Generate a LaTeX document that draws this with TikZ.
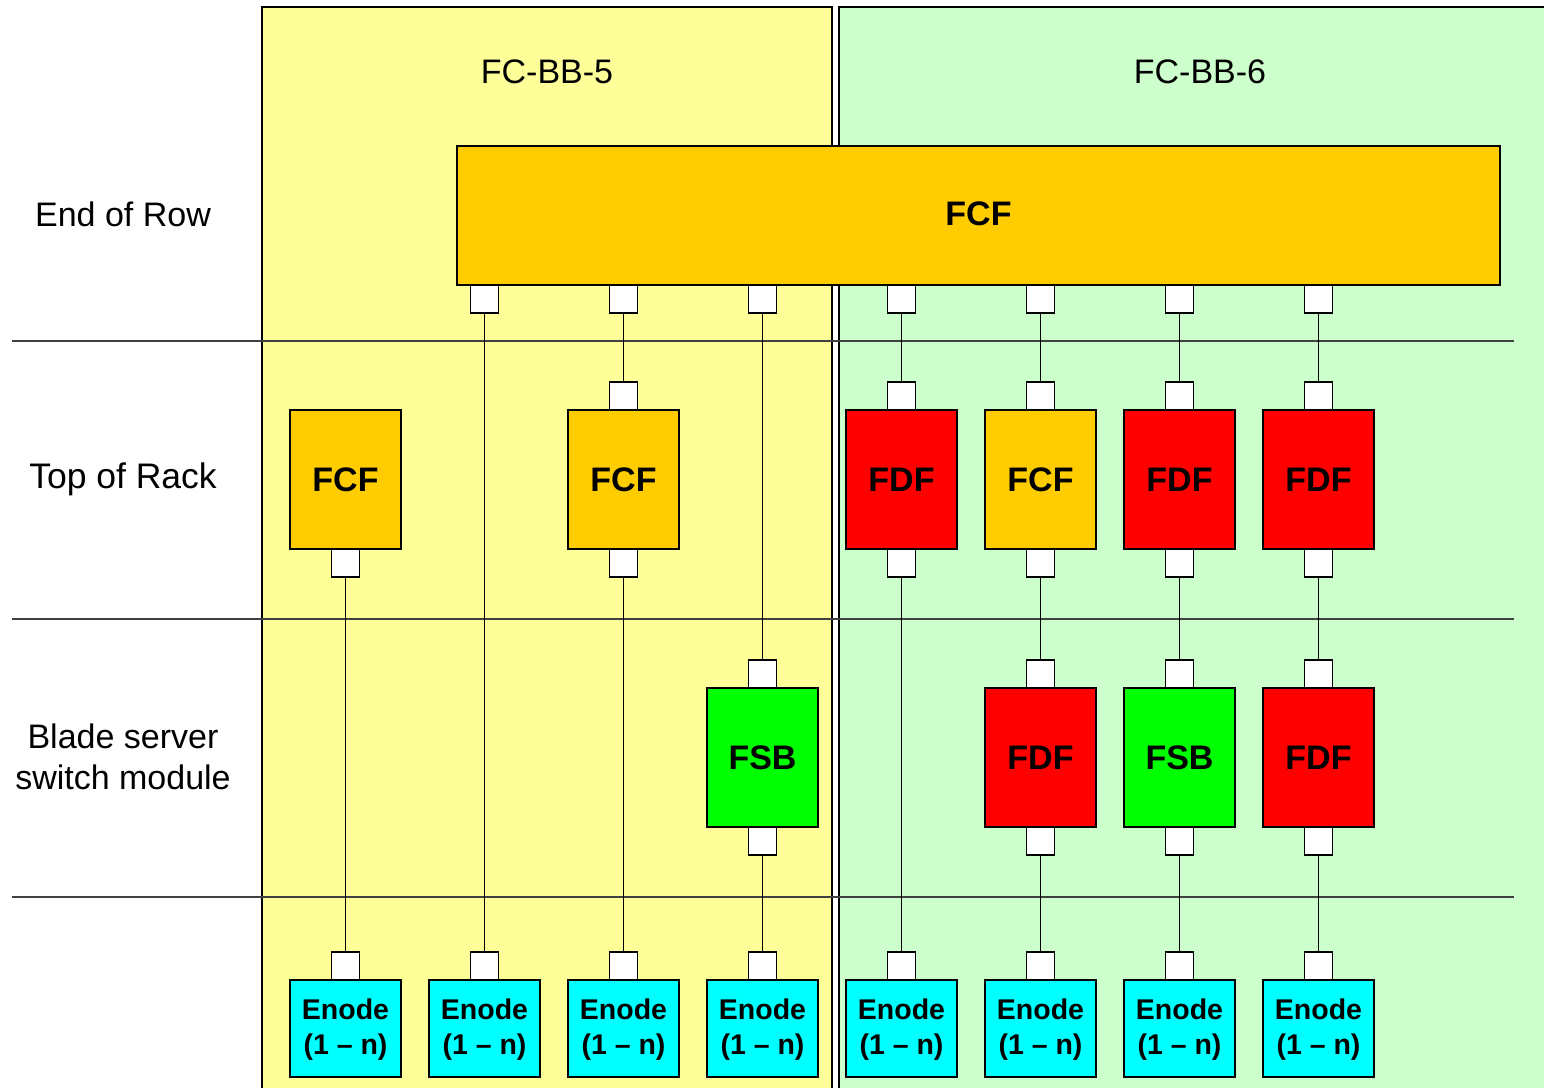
\documentclass[tikz,border=0pt]{standalone}
\usepackage{fontspec}
\setmainfont{Liberation Sans}
\definecolor{panelY}{HTML}{FFFF99}
\definecolor{panelG}{HTML}{CCFFCC}
\definecolor{fcfC}{HTML}{FFCC00}
\definecolor{fdfC}{HTML}{FF0000}
\definecolor{fsbC}{HTML}{00FF00}
\definecolor{enC}{HTML}{00FFFF}
\definecolor{rowline}{HTML}{404040}
\tikzset{
  panel/.style={draw=black, line width=2pt},
  rowsep/.style={draw=rowline, line width=1.4pt},
  conn/.style={draw=black, line width=1.3pt},
  port/.style={draw=black, line width=1.3pt, fill=white, minimum width=28pt, minimum height=28pt, inner sep=0pt},
  unit/.style={draw=black, line width=1.3pt, minimum width=111pt, minimum height=139pt, inner sep=0pt,
     font=\fontsize{34}{41}\selectfont\bfseries},
  fcfbox/.style={unit, fill=fcfC},
  fdfbox/.style={unit, fill=fdfC},
  fsbbox/.style={unit, fill=fsbC},
  enbox/.style={draw=black, line width=1.3pt, fill=enC, minimum width=111pt, minimum height=97pt, inner sep=0pt},
  entext/.style={align=center, font=\fontsize{28.5}{35}\selectfont\bfseries},
  rowlabel/.style={align=center, font=\fontsize{34}{41}\selectfont},
}
\begin{document}
\begin{tikzpicture}[x=1pt,y=-1pt]
\useasboundingbox (0,0) rectangle (1544,1087);
% panels
\path[panel, fill=panelY] (262,7) rectangle (832,1100);
\path[panel, fill=panelG] (839,7) rectangle (1560,1100);
\node[rowlabel] (bb5) at (547,72) {FC-BB-5};
\node[rowlabel] (bb6) at (1200,72) {FC-BB-6};
% row separators
\coordinate (r1a) at (12,341); \coordinate (r1b) at (1514,341);
\coordinate (r2a) at (12,619); \coordinate (r2b) at (1514,619);
\coordinate (r3a) at (12,897); \coordinate (r3b) at (1514,897);
\draw[rowsep] (r1a) -- (r1b);
\draw[rowsep] (r2a) -- (r2b);
\draw[rowsep] (r3a) -- (r3b);
% row labels
\node[rowlabel] (lEoR) at (123,214) {End of Row};
\node[rowlabel, font=\fontsize{35.5}{41}\selectfont] (lToR) at (123,479) {Top of Rack};
\node[rowlabel] (lBlade) at (123,757) {Blade server\\switch module};
% End of row FCF
\node[fcfbox, minimum width=1043pt] (eor) at (978.5,215.5) {};
\node[font=\fontsize{34}{41}\selectfont\bfseries] (eorlbl) at (978.5,214) {FCF};
% top ports (columns 2..8)
\foreach \c in {2,...,8}{
  \node[port] (tp\c) at ({345.5+139*(\c-1)},299) {};
}
% Top of rack units
\node[fcfbox] (tor1) at (345.5,479.5) {FCF};
\node[fcfbox] (tor3) at (623.5,479.5) {FCF};
\node[fdfbox] (tor5) at (901.5,479.5) {FDF};
\node[fcfbox] (tor6) at (1040.5,479.5) {FCF};
\node[fdfbox] (tor7) at (1179.5,479.5) {FDF};
\node[fdfbox] (tor8) at (1318.5,479.5) {FDF};
\foreach \c in {3,5,6,7,8}{
  \node[port] (tin\c) at ({345.5+139*(\c-1)},396) {};
}
\foreach \c in {1,3,5,6,7,8}{
  \node[port] (tout\c) at ({345.5+139*(\c-1)},563) {};
}
% Blade units
\node[fsbbox] (bl4) at (762.5,757.5) {FSB};
\node[fdfbox] (bl6) at (1040.5,757.5) {FDF};
\node[fsbbox] (bl7) at (1179.5,757.5) {FSB};
\node[fdfbox] (bl8) at (1318.5,757.5) {FDF};
\foreach \c in {4,6,7,8}{
  \node[port] (bin\c) at ({345.5+139*(\c-1)},674) {};
  \node[port] (bout\c) at ({345.5+139*(\c-1)},841) {};
}
% Enodes
\foreach \c in {1,...,8}{
  \node[enbox] (en\c) at ({345.5+139*(\c-1)},1028.5) {};
  \node[entext] (ent\c) at ({345.5+139*(\c-1)},1030) {Enode\\(1 – n)};
  \node[port] (ep\c) at ({345.5+139*(\c-1)},966) {};
}
% connectors
\draw[conn] (tout1.south) -- (ep1.north);
\draw[conn] (tp2.south) -- (ep2.north);
\draw[conn] (tp3.south) -- (tin3.north);
\draw[conn] (tout3.south) -- (ep3.north);
\draw[conn] (tp4.south) -- (bin4.north);
\draw[conn] (bout4.south) -- (ep4.north);
\draw[conn] (tp5.south) -- (tin5.north);
\draw[conn] (tout5.south) -- (ep5.north);
\foreach \c in {6,7,8}{
  \draw[conn] (tp\c.south) -- (tin\c.north);
  \draw[conn] (tout\c.south) -- (bin\c.north);
  \draw[conn] (bout\c.south) -- (ep\c.north);
}
\end{tikzpicture}
\end{document}
